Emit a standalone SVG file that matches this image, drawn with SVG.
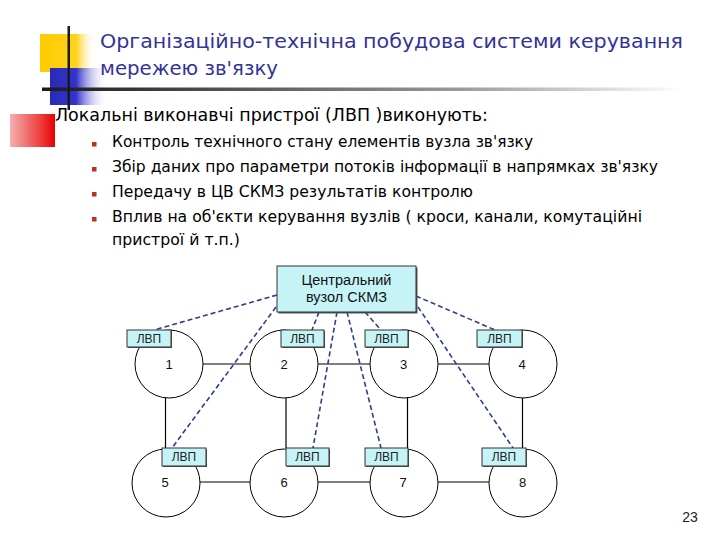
<svg xmlns="http://www.w3.org/2000/svg" width="720" height="540" viewBox="0 0 720 540">
<defs>
<linearGradient id="gY" x1="0" y1="0" x2="1" y2="0"><stop offset="0" stop-color="#ffcc00"/><stop offset="0.65" stop-color="#ffd21a"/><stop offset="1" stop-color="#ffffff" stop-opacity="0"/></linearGradient>
<linearGradient id="gB" x1="0" y1="0" x2="1" y2="0"><stop offset="0" stop-color="#2a2ab8"/><stop offset="0.45" stop-color="#3333cc"/><stop offset="1" stop-color="#ffffff" stop-opacity="0"/></linearGradient>
<linearGradient id="gR" x1="0" y1="0" x2="1" y2="0"><stop offset="0" stop-color="#f4b0b0"/><stop offset="0.7" stop-color="#ee3a3a"/><stop offset="1" stop-color="#e80000"/></linearGradient>
<linearGradient id="gL" x1="0" y1="0" x2="1" y2="0"><stop offset="0" stop-color="#1a1a1a"/><stop offset="0.3" stop-color="#555555"/><stop offset="0.65" stop-color="#9a9a9a"/><stop offset="1" stop-color="#ffffff"/></linearGradient>
<style>
.title{font-family:"DejaVu Sans","Liberation Sans",sans-serif;font-size:20px;fill:#333399}
.body{font-family:"DejaVu Sans","Liberation Sans",sans-serif;fill:#000}
.bul{fill:#c0301a}
.solid{stroke:#000;stroke-width:1.2;fill:none}
.dash{stroke:#2e3f8c;stroke-width:1.6;stroke-dasharray:5 3;fill:none}
.circ{fill:#fff;stroke:#000;stroke-width:1}
.box{fill:#c6f4f6;stroke:#333;stroke-width:1}
.shadow{fill:#555}
.lbl{font-family:"Liberation Sans",Arial,sans-serif;font-size:12px;fill:#222;text-anchor:middle}
.num{font-family:"Liberation Sans",Arial,sans-serif;font-size:13px;fill:#111;text-anchor:middle}
.ctr{font-family:"Liberation Sans",Arial,sans-serif;font-size:14px;fill:#111;text-anchor:middle}
</style>
</defs>
<rect width="720" height="540" fill="#fff"/>
<g id="decor">
<rect x="40" y="34" width="56" height="38" fill="url(#gY)"/>
<rect x="50" y="68" width="58" height="37" fill="url(#gB)"/>
<rect x="10" y="114" width="45" height="33" fill="url(#gR)"/>
<rect x="42" y="87.5" width="642" height="3.5" fill="url(#gL)"/>
<rect x="67.5" y="26" width="2.5" height="84" fill="#1a1a1a"/>
</g>
<g id="title">
<text class="title" x="100" y="48" textLength="583" lengthAdjust="spacingAndGlyphs">Організаційно-технічна побудова системи керування</text>
<text class="title" x="100" y="75" textLength="178" lengthAdjust="spacingAndGlyphs">мережею зв'язку</text>
</g>
<g id="bullets">
<text class="body" x="55" y="121" font-size="18" textLength="433" lengthAdjust="spacingAndGlyphs">Локальні виконавчі пристрої (ЛВП )виконують:</text>
<rect class="bul" x="92" y="142" width="4.5" height="4.5"/>
<text class="body" x="112" y="147" font-size="15.5" textLength="421" lengthAdjust="spacingAndGlyphs">Контроль технічного стану елементів вузла зв'язку</text>
<rect class="bul" x="92" y="167" width="4.5" height="4.5"/>
<text class="body" x="112" y="172" font-size="15.5" textLength="546" lengthAdjust="spacingAndGlyphs">Збір даних про параметри потоків інформації в напрямках зв'язку</text>
<rect class="bul" x="92" y="192" width="4.5" height="4.5"/>
<text class="body" x="112" y="197" font-size="15.5" textLength="361" lengthAdjust="spacingAndGlyphs">Передачу в ЦВ СКМЗ результатів контролю</text>
<rect class="bul" x="92" y="217" width="4.5" height="4.5"/>
<text class="body" x="112" y="222" font-size="15.5" textLength="530" lengthAdjust="spacingAndGlyphs">Вплив на об'єкти керування вузлів ( кроси, канали, комутаційні</text>
<text class="body" x="112" y="245" font-size="15.5" textLength="128" lengthAdjust="spacingAndGlyphs">пристрої й т.п.)</text>
</g>
<g id="connectors">
<line class="solid" x1="203" y1="364" x2="250" y2="364"/>
<line class="solid" x1="318" y1="364" x2="370" y2="364"/>
<line class="solid" x1="438" y1="364" x2="489" y2="364"/>
<line class="solid" x1="200" y1="482" x2="250" y2="482"/>
<line class="solid" x1="318" y1="482" x2="370" y2="482"/>
<line class="solid" x1="438" y1="482" x2="489" y2="482"/>
<line class="solid" x1="165.5" y1="396" x2="165.5" y2="448"/>
<line class="solid" x1="286" y1="396" x2="286" y2="448"/>
<line class="solid" x1="407.5" y1="396" x2="407.5" y2="448"/>
<line class="solid" x1="522.5" y1="396" x2="522.5" y2="448"/>
<line class="dash" x1="277" y1="295" x2="154" y2="330"/>
<line class="dash" x1="276" y1="307" x2="172" y2="448"/>
<line class="dash" x1="319" y1="312" x2="312" y2="330"/>
<line class="dash" x1="337" y1="312" x2="313" y2="448"/>
<line class="dash" x1="347" y1="312" x2="381" y2="448"/>
<line class="dash" x1="365" y1="312" x2="381" y2="330"/>
<line class="dash" x1="416" y1="296" x2="495" y2="330"/>
<line class="dash" x1="418" y1="307" x2="513" y2="448"/>
</g>
<g id="central">
<rect class="shadow" x="278.5" y="267.5" width="139" height="46"/>
<rect class="box" x="277" y="266" width="139" height="46"/>
<text class="ctr" x="346.5" y="285" textLength="90" lengthAdjust="spacingAndGlyphs">Центральний</text>
<text class="ctr" x="346.5" y="302" textLength="81" lengthAdjust="spacingAndGlyphs">вузол СКМЗ</text>
</g>
<g id="node1"><circle class="circ" cx="169" cy="364" r="34"/><text class="num" x="169" y="368.5">1</text><rect class="shadow" x="128" y="331" width="44" height="17"/><rect class="box" x="127" y="330" width="44" height="17"/><text class="lbl" x="149" y="342.5">ЛВП</text></g>
<g id="node2"><circle class="circ" cx="284" cy="364" r="34"/><text class="num" x="284" y="368.5">2</text><rect class="shadow" x="282" y="331" width="43" height="17"/><rect class="box" x="281" y="330" width="43" height="17"/><text class="lbl" x="302.5" y="342.5">ЛВП</text></g>
<g id="node3"><circle class="circ" cx="404" cy="364" r="34"/><text class="num" x="403.5" y="368.5">3</text><rect class="shadow" x="366" y="331" width="43" height="17"/><rect class="box" x="365" y="330" width="43" height="17"/><text class="lbl" x="386.5" y="342.5">ЛВП</text></g>
<g id="node4"><circle class="circ" cx="523" cy="364" r="34"/><text class="num" x="522" y="368.5">4</text><rect class="shadow" x="478" y="331" width="45" height="17"/><rect class="box" x="477" y="330" width="45" height="17"/><text class="lbl" x="499.5" y="342.5">ЛВП</text></g>
<g id="node5"><circle class="circ" cx="166" cy="483" r="34"/><text class="num" x="165" y="487">5</text><rect class="shadow" x="163" y="449" width="44" height="18"/><rect class="box" x="162" y="448" width="44" height="18"/><text class="lbl" x="184" y="461">ЛВП</text></g>
<g id="node6"><circle class="circ" cx="284" cy="483" r="34"/><text class="num" x="284" y="487">6</text><rect class="shadow" x="287" y="449" width="43" height="18"/><rect class="box" x="286" y="448" width="43" height="18"/><text class="lbl" x="307.5" y="461">ЛВП</text></g>
<g id="node7"><circle class="circ" cx="404" cy="483" r="34"/><text class="num" x="403" y="487">7</text><rect class="shadow" x="366" y="449" width="43" height="18"/><rect class="box" x="365" y="448" width="43" height="18"/><text class="lbl" x="386.5" y="461">ЛВП</text></g>
<g id="node8"><circle class="circ" cx="523" cy="483" r="34"/><text class="num" x="522.5" y="487">8</text><rect class="shadow" x="483" y="449" width="44" height="18"/><rect class="box" x="482" y="448" width="44" height="18"/><text class="lbl" x="504" y="461">ЛВП</text></g>
<text x="690" y="522" font-family="Liberation Sans, Arial, sans-serif" font-size="14" fill="#222" text-anchor="middle">23</text>
</svg>
